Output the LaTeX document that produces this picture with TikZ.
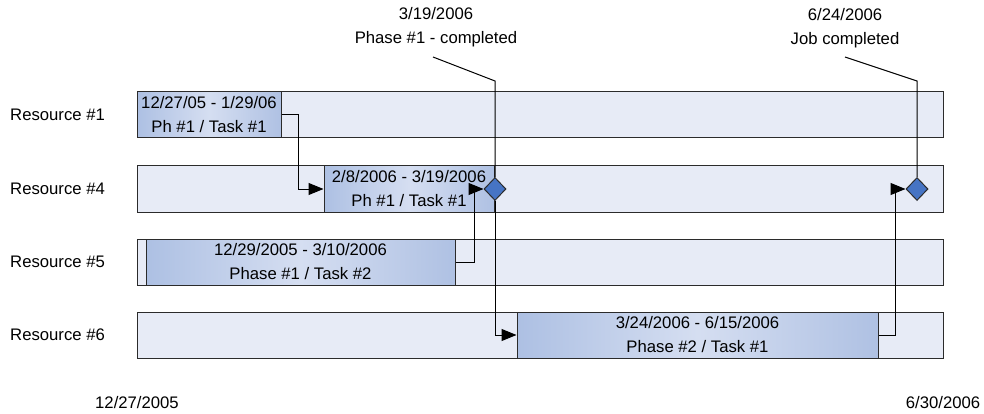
\documentclass[tikz,border=0pt]{standalone}
\usepackage{fontspec}
\setmainfont{Liberation Sans}
\usetikzlibrary{arrows.meta,shapes.geometric}
\definecolor{barfill}{HTML}{E7EBF6}
\definecolor{edge}{HTML}{2B2B2B}
\definecolor{taskL}{HTML}{ADC0E3}
\definecolor{taskM}{HTML}{D5DEF1}
\definecolor{taskR}{HTML}{AFC1E3}
\definecolor{milestone}{HTML}{4674C4}
\tikzset{
  rowbar/.style={draw=edge, line width=1pt, fill=barfill, rectangle, inner sep=0pt, minimum height=46pt, minimum width=806pt},
  taskbox/.style={draw=edge, line width=1pt, rectangle, inner sep=0pt, minimum height=46pt,
     left color=taskL, right color=taskR, middle color=taskM, align=center,
     font=\fontsize{16.7}{24}\selectfont},
  milest/.style={diamond, draw=edge, line width=1pt, fill=milestone, inner sep=0pt, minimum width=22pt, minimum height=23pt},
  lbl/.style={inner sep=0pt, font=\fontsize{16.7}{24}\selectfont, align=center},
  conn/.style={draw=black, line width=1pt},
  arr/.style={conn, -{Triangle[length=15pt,width=12pt]}}
}
\begin{document}
\begin{tikzpicture}[x=1pt,y=-1pt]
\useasboundingbox (0,0) rectangle (984,414);
% row bars
\node[rowbar] (bar1) at (540,115) {};
\node[rowbar] (bar4) at (540,189) {};
\node[rowbar] (bar5) at (540,262) {};
\node[rowbar] (bar6) at (540,335) {};
% resource labels
\node[lbl, anchor=west] (r1) at (10,115) {Resource \#1};
\node[lbl, anchor=west] (r4) at (10,189) {Resource \#4};
\node[lbl, anchor=west] (r5) at (10,262) {Resource \#5};
\node[lbl, anchor=west] (r6) at (10,335) {Resource \#6};
% tasks
\node[taskbox, minimum width=144pt] (t1) at (209,115) {12/27/05 - 1/29/06\\Ph \#1 / Task \#1};
\node[taskbox, minimum width=170pt] (t4) at (409,189) {2/8/2006 - 3/19/2006\\Ph \#1 / Task \#1};
\node[taskbox, minimum width=309pt] (t5) at (300.5,262) {12/29/2005 - 3/10/2006\\Phase \#1 / Task \#2};
\node[taskbox, minimum width=361pt] (t6) at (697.5,335) {3/24/2006 - 6/15/2006\\Phase \#2 / Task \#1};
% milestones
\node[milest] (d1) at (495,189) {};
\node[milest] (d2) at (917,189) {};
% callout texts
\node[lbl] (c1) at (436,27) {3/19/2006\\Phase \#1 - completed};
\node[lbl] (c2) at (845,28) {6/24/2006\\Job completed};
\coordinate (c1e) at (433,57);
\coordinate (c1k) at (495,81);
\coordinate (c2e) at (845,57);
\coordinate (c2k) at (917,81);
% axis dates
\node[lbl] (s) at (137,403) {12/27/2005};
\node[lbl] (e) at (943,403) {6/30/2006};
% connectors
\draw[arr] (t1.east) -- ++(17,0) |- (t4.west);
\draw[arr] (t5.east) -- ++(19,0) |- (d1.west);
\draw[arr] (d1.south) |- (t6.west);
\draw[arr] (t6.east) -- ++(17,0) |- (d2.west);
\draw[conn] (c1e) -- (c1k) -- (d1.north);
\draw[conn] (c2e) -- (c2k) -- (d2.north);
\end{tikzpicture}
\end{document}
